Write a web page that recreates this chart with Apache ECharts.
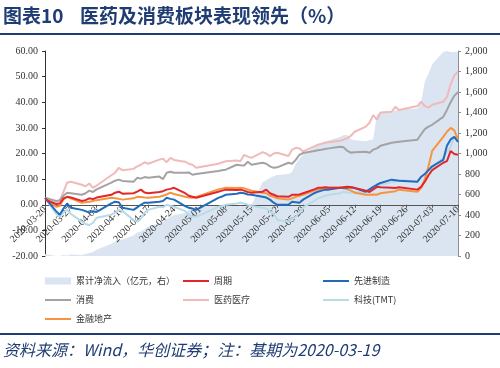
<!DOCTYPE html>
<html><head><meta charset="utf-8">
<script src="https://cdn.jsdelivr.net/npm/echarts@6/dist/echarts.min.js"></script>
<style>html,body{margin:0;padding:0;background:#fff}#c{width:500px;height:368px}</style>
</head><body><div id="c"></div>
<script>
// Trading dates (x positions come from a calendar-day category axis)
var tradeDates = ['2020-03-20','2020-03-23','2020-03-24','2020-03-25','2020-03-26','2020-03-27','2020-03-30','2020-03-31',
'2020-04-01','2020-04-02','2020-04-03','2020-04-07','2020-04-08','2020-04-09','2020-04-10','2020-04-13','2020-04-14','2020-04-15','2020-04-16','2020-04-17',
'2020-04-20','2020-04-21','2020-04-22','2020-04-23','2020-04-24','2020-04-27','2020-04-28','2020-04-29','2020-04-30',
'2020-05-06','2020-05-07','2020-05-08','2020-05-11','2020-05-12','2020-05-13','2020-05-14','2020-05-15','2020-05-18','2020-05-19','2020-05-20','2020-05-21','2020-05-22',
'2020-05-25','2020-05-26','2020-05-27','2020-05-28','2020-05-29','2020-06-01','2020-06-02','2020-06-03','2020-06-04','2020-06-05',
'2020-06-08','2020-06-09','2020-06-10','2020-06-11','2020-06-12','2020-06-15','2020-06-16','2020-06-17','2020-06-18','2020-06-19',
'2020-06-22','2020-06-23','2020-06-24','2020-06-29','2020-06-30','2020-07-01','2020-07-02','2020-07-03',
'2020-07-06','2020-07-07','2020-07-08','2020-07-09','2020-07-10'];

var tickLabels = ['2020-03-20','2020-03-27','2020-04-03','2020-04-10','2020-04-17','2020-04-24','2020-05-01','2020-05-08',
'2020-05-15','2020-05-22','2020-05-29','2020-06-05','2020-06-12','2020-06-19','2020-06-26','2020-07-03','2020-07-10'];

var inflow = [20,0,0,10,5,15,10,20,30,40,60,120,140,150,160,200,230,240,260,290,320,330,360,380,400,420,450,470,480,
490,495,500,490,480,500,490,495,720,740,760,780,790,800,820,900,950,990,1060,1080,1100,1120,1130,
1160,1180,1180,1140,1130,1120,1130,1140,1380,1400,1410,1420,1430,1440,1500,1700,1780,1870,1990,2000,1990,1990,1990];

var cycle = [2.0,0.3,0.5,2.5,3.1,2.8,1.5,1.8,2.5,2.2,2.8,3.9,4.7,5.1,4.3,4.5,5.1,5.9,4.8,4.5,5.0,5.3,5.9,6.2,6.6,4.5,3.5,3.1,2.7,
5.1,5.5,5.9,5.8,5.9,5.5,5.0,4.7,5.1,5.9,4.5,3.9,3.3,3.1,3.9,3.9,4.0,4.5,6.0,6.6,6.6,6.8,6.6,
6.6,6.8,7.0,6.8,6.5,5.5,5.0,6.0,7.0,6.8,6.6,6.5,6.8,5.9,7.0,9.0,11.5,13.5,16.4,17.0,21.0,19.8,19.5];

var manuf = [2.7,-2.5,-3.9,-1.5,0.5,-1.2,-2.0,-2.5,-3.1,-2.5,-2.8,0.5,1.2,1.0,-1.2,-2.0,-1.0,0.0,0.8,0.8,1.2,1.5,2.7,2.3,2.0,-0.5,-1.2,-1.5,-2.0,
2.7,3.2,3.9,4.3,4.7,4.5,4.0,3.9,3.1,2.8,2.0,0.8,0.0,0.0,1.2,1.0,0.8,2.0,4.5,5.1,5.5,5.9,5.9,
6.6,6.6,6.6,6.8,6.5,5.1,6.0,7.0,7.8,8.5,9.8,9.6,9.4,9.0,10.9,12.0,13.5,15.0,17.5,23.0,25.5,26.5,24.5];

var consumer = [2.7,1.5,1.8,3.5,4.7,4.5,3.9,4.5,5.5,5.0,6.0,8.6,9.4,9.8,9.3,9.0,10.5,10.2,10.8,10.5,11.0,10.0,12.5,12.9,12.5,12.5,12.6,11.7,12.0,
13.2,13.5,13.7,15.6,15.4,15.3,16.8,15.6,16.4,16.0,15.0,14.4,14.6,16.4,16.0,17.5,19.5,20.2,21.0,21.3,21.5,21.8,22.0,
22.6,22.4,21.0,20.3,20.5,20.7,20.3,21.5,22.0,23.0,24.2,24.4,24.6,25.4,27.5,29.5,30.5,31.2,34.3,37.0,40.0,42.5,44.0];

var pharma = [2.7,1.2,1.5,5.0,8.6,9.0,7.8,7.2,8.3,6.6,7.5,11.5,12.5,14.4,13.5,14.0,15.0,15.6,16.6,16.0,17.6,18.0,16.6,18.3,17.5,16.8,16.0,15.6,14.4,
16.0,16.5,17.0,17.3,17.0,19.5,18.8,18.3,20.5,20.0,19.0,20.0,20.3,19.0,21.5,22.2,22.0,20.8,22.8,23.4,23.8,24.2,24.4,
25.0,25.4,26.0,27.0,28.5,30.5,32.0,35.0,33.2,36.0,36.3,38.2,37.0,38.5,40.2,38.5,37.9,39.0,40.2,42.0,47.0,50.5,52.0];

var tmt = [2.7,-3.5,-4.7,-3.0,-2.0,-3.5,-6.6,-7.5,-8.0,-7.0,-5.1,-3.9,-3.1,-2.0,-2.5,-5.9,-6.6,-5.5,-3.1,-2.0,-0.8,-1.0,0.0,-0.5,-0.8,-2.5,-3.9,-4.7,-4.7,
-0.8,-0.5,0.0,0.5,0.8,0.5,0.0,-0.5,-1.2,-1.5,-2.5,-3.5,-5.9,-6.6,-5.5,-4.7,-3.0,-1.0,1.5,2.5,3.0,3.5,3.9,
4.5,5.1,4.8,4.7,5.0,4.8,5.1,6.0,6.6,7.8,8.8,9.0,9.8,9.0,10.9,12.0,13.0,14.4,18.3,20.5,22.6,26.5,26.1];

var finance = [2.7,-0.8,-0.5,2.0,3.1,2.5,0.8,1.0,1.2,1.5,1.8,2.7,2.5,2.3,2.0,2.5,3.1,3.0,2.8,2.7,3.1,3.5,4.0,4.7,4.2,3.1,2.8,2.7,3.0,
6.0,6.3,6.6,6.5,6.6,6.4,6.0,5.5,4.7,4.5,3.5,3.1,2.5,2.0,2.5,3.1,3.5,3.9,5.5,5.9,6.2,6.6,6.6,
6.6,6.4,6.0,5.5,4.7,3.9,3.9,4.0,3.9,4.5,5.1,5.3,5.9,5.1,6.5,10.0,15.0,21.0,26.5,28.5,30.0,29.0,25.4];

var names = ['累计净流入（亿元，右）','周期','先进制造','消费','医药医疗','科技(TMT)','金融地产'];
var colors = ['#dbe5f1','#e3262b','#1f6cbf','#a3a3a3','#f2b9b9','#b9dbe8','#f59540'];

// calendar-day axis categories
var days = [];
(function(){
  var d = new Date(Date.UTC(2020,2,20)), end = Date.UTC(2020,6,10);
  while (d.getTime() <= end) { days.push(d.toISOString().slice(0,10)); d = new Date(d.getTime()+86400000); }
})();
function pairs(arr){ return tradeDates.map(function(t,i){ return [t, arr[i]]; }); }
function isTick(idx, val){ return tickLabels.indexOf(val) >= 0; }

var lineIcon = 'path://M0,0L26,0L26,2L0,2Z';
var serif = 'Liberation Serif';
var cjk = 'Noto Sans CJK SC';

function lineSeries(name, data, color, z){
  return {name:name, type:'line', data:pairs(data), showSymbol:false, symbol:'none',
    lineStyle:{width:2, color:color}, itemStyle:{color:color}, z:z, animation:false};
}
var legendBase = {orient:'vertical', top:275, itemWidth:26, itemHeight:7, itemGap:7, padding:0,
  textStyle:{fontSize:9, color:'#333', fontFamily:cjk, lineHeight:12}};
function legendCol(left, items){
  var o = JSON.parse(JSON.stringify(legendBase)); o.left = left; o.data = items; return o;
}

var chart = echarts.init(document.getElementById('c'), null, {renderer:'canvas'});
chart.setOption({
  animation:false,
  grid:{left:45, right:42, top:51, bottom:112, containLabel:false},
  legend:[
    legendCol(45, [{name:names[0], icon:'rect'},{name:names[3], icon:lineIcon},{name:names[6], icon:lineIcon}]),
    legendCol(183, [{name:names[1], icon:lineIcon},{name:names[4], icon:lineIcon}]),
    legendCol(323, [{name:names[2], icon:lineIcon},{name:names[5], icon:lineIcon}])
  ],
  xAxis:{type:'category', data:days, boundaryGap:false, z:2,
    axisLine:{onZero:true, onZeroAxisIndex:0, lineStyle:{color:'#555', width:1}},
    axisTick:{show:true, interval:isTick, length:3, lineStyle:{color:'#555'}},
    axisLabel:{interval:isTick, rotate:45, fontSize:10, fontFamily:serif, color:'#333', margin:-48, hideOverlap:false},
    splitLine:{show:false}},
  yAxis:[
    {type:'value', min:-20, max:60, interval:10, position:'left',
     axisLine:{show:true, lineStyle:{color:'#333'}},
     axisTick:{show:true, length:3, lineStyle:{color:'#333'}},
     axisLabel:{fontSize:10, fontFamily:serif, color:'#333', margin:7, formatter:function(v){return v.toFixed(2);}},
     splitLine:{show:false}},
    {type:'value', min:0, max:2000, interval:200, position:'right',
     axisLine:{show:true, lineStyle:{color:'#8c8c8c'}},
     axisTick:{show:true, length:3, lineStyle:{color:'#8c8c8c'}},
     axisLabel:{fontSize:10, fontFamily:serif, color:'#333', margin:7, formatter:function(v){return v>=1000? Math.floor(v/1000)+','+String(v%1000).padStart(3,'0') : String(v);}},
     splitLine:{show:false}}
  ],
  series:[
    {name:names[0], type:'line', yAxisIndex:1, data:pairs(inflow), showSymbol:false, symbol:'none',
     lineStyle:{width:0, color:colors[0]}, itemStyle:{color:colors[0]}, areaStyle:{color:colors[0], opacity:1}, z:1},
    lineSeries(names[5], tmt, colors[5], 3),
    lineSeries(names[4], pharma, colors[4], 3),
    lineSeries(names[3], consumer, colors[3], 4),
    lineSeries(names[6], finance, colors[6], 4),
    lineSeries(names[2], manuf, colors[2], 5),
    lineSeries(names[1], cycle, colors[1], 6)
  ],
  graphic:[
    {type:'text', left:3, top:6, style:{text:'图表10', font:'bold 19px "Noto Sans CJK SC"', fill:'#1f3d73'}},
    {type:'text', left:80, top:6, style:{text:'医药及消费板块表现领先（%）', font:'bold 19px "Noto Sans CJK SC"', fill:'#1f3d73'}},
    {type:'rect', shape:{x:0, y:33, width:500, height:2}, style:{fill:'#1f3d73'}},
    {type:'rect', shape:{x:0, y:333, width:500, height:2}, style:{fill:'#1f3d73'}},
    {type:'text', left:3, top:342, style:{text:'资料来源：Wind，华创证券；注：基期为2020-03-19', font:'italic 16px "Noto Sans CJK SC"', fill:'#1f3d73'}}
  ]
});
</script></body></html>
